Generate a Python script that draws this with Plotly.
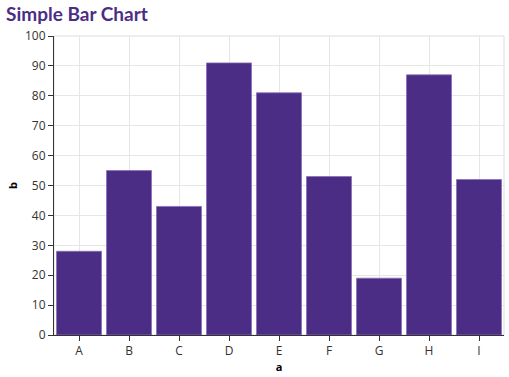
import plotly.graph_objects as go

categories = ["A", "B", "C", "D", "E", "F", "G", "H", "I"]
values = [28, 55, 43, 91, 81, 53, 19, 87, 52]
y_ticks = list(range(0, 101, 10))

bar_color = "#4c2d85"

fig = go.Figure(go.Bar(
    x=categories, y=values,
    marker=dict(color=bar_color, line=dict(color="#8a6fb8", width=0.8)),
))

fig.update_layout(
    width=509, height=377,
    margin=dict(l=54, r=5, t=36, b=42),
    paper_bgcolor="white", plot_bgcolor="white",
    bargap=0.1,
    showlegend=False,
    font=dict(family="Open Sans, Noto Sans, sans-serif", color="#222"),
    title=dict(text="<b>Simple Bar Chart</b>", x=0.012, xanchor="left", y=0.963, yanchor="middle",
               font=dict(size=19, color="#4c2d85", family="Lato, sans-serif")),
    shapes=[dict(type="rect", xref="paper", yref="paper", x0=0, x1=1, y0=0, y1=1,
                 line=dict(color="#dddddd", width=1), layer="below")],
)

fig.update_xaxes(
    title=dict(text="<b>a</b>", font=dict(size=11, color="#000"), standoff=0),
    showgrid=True, gridcolor="#e6e6e6", gridwidth=1,
    showline=True, linecolor="#333", linewidth=1,
    ticks="outside", ticklen=5, tickcolor="#333",
    tickfont=dict(size=12, color="#333"),
)
fig.update_yaxes(
    title=dict(text="<b>b</b>", font=dict(size=11, color="#000"), standoff=5),
    range=[0, 100], tickvals=y_ticks,
    showgrid=True, gridcolor="#e6e6e6", gridwidth=1,
    showline=True, linecolor="#333", linewidth=1,
    ticks="outside", ticklen=5, tickcolor="#333",
    tickfont=dict(size=12, color="#333"),
    zeroline=False,
)

fig.write_html("out.html", config={"displayModeBar": False},
               post_script="document.body.style.margin='0';document.body.style.padding='0';")
